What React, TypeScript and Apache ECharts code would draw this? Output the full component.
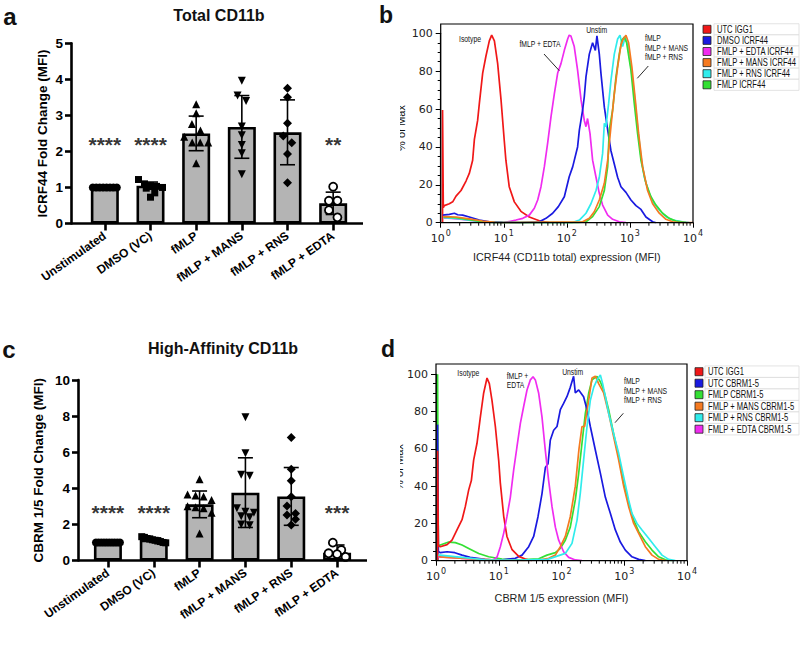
import React, { useEffect, useRef } from 'react';
import * as echarts from 'echarts';

// ---------------- Bar panels (a, c) ----------------
const categories = ['Unstimulated', 'DMSO (VC)', 'fMLP', 'fMLP + MANS', 'fMLP + RNS', 'fMLP + EDTA'];

// Panel a – Total CD11b (ICRF44 fold change, MFI)
const totalMean = [1.0, 1.05, 2.5, 2.68, 2.53, 0.56];
const totalSD = [0, 0.1, 0.48, 0.87, 0.9, 0.31];
const totalUnstim = [1, 1, 1, 1, 1, 1, 1, 1];
const totalDMSO = [1.22, 1.1, 1.05, 1.03, 1.0, 0.98, 0.85, 0.73];
const totalFMLP = [3.31, 3.06, 2.76, 2.58, 2.41, 2.25, 2.25, 2.25, 1.67];
const totalMANS = [3.96, 3.55, 3.4, 2.69, 2.45, 2.18, 1.95, 1.37];
const totalRNS = [3.75, 3.5, 2.78, 2.43, 2.24, 1.93, 1.13];
const totalEDTA = [1.02, 0.63, 0.63, 0.37, 0.17];
const totalSig = ['****', '****', '', '', '', '**'];
const totalYTicks = { min: 0, max: 5, interval: 1 };

// Panel c – High-affinity CD11b (CBRM 1/5 fold change, MFI)
const hiMean = [1.0, 1.15, 3.11, 3.76, 3.55, 0.43];
const hiSD = [0, 0.1, 0.74, 1.93, 1.6, 0.43];
const hiUnstim = [1, 1, 1, 1, 1, 1, 1, 1, 1, 1];
const hiDMSO = [1.32, 1.28, 1.22, 1.2, 1.15, 1.12, 1.08, 1.05, 1.0, 0.98];
const hiFMLP = [4.5, 3.65, 3.6, 3.55, 3.35, 3.0, 2.95, 2.9, 2.65, 1.5];
const hiMANS = [7.93, 5.94, 4.75, 4.7, 2.9, 2.7, 2.65, 2.45, 2.4, 2.0, 1.95];
const hiRNS = [6.82, 5.05, 4.42, 3.53, 3.02, 2.61, 2.52, 2.28, 1.97];
const hiEDTA = [0.99, 0.58, 0.4, 0.35, 0.2];
const hiSig = ['****', '****', '', '', '', '***'];
const hiYTicks = { min: 0, max: 10, interval: 2 };

// ---------------- Histogram panels (b, d): [MFI, % of Max] ----------------
const histBIsotype = [[1.07, 0], [1.07, 59.5], [1.1, 8], [1.14, 9], [1.37, 10], [1.55, 11], [1.75, 14], [2.1, 17], [2.52, 22], [2.84, 26], [3.21, 33], [3.42, 44], [3.85, 54], [4.1, 63], [4.63, 79], [5.22, 88], [5.9, 96], [6.43, 99], [7.1, 96], [8.0, 84], [9.04, 65], [10.2, 43], [10.8, 33], [12.2, 19], [14.7, 11], [18.7, 6], [25.4, 3], [36.6, 1], [52.7, 0]];
const histBDMSO = [[1.08, 4], [1.37, 4.4], [1.65, 5], [1.86, 4.2], [2.23, 4], [2.84, 3], [4.1, 1.4], [5.9, 0.5], [9.6, 0.2], [17.7, 0], [36.6, 0.5], [46.7, 2.3], [59.6, 5], [73.3, 8.5], [91.2, 13.7], [109, 24.3], [124, 29.6], [148, 40], [158, 49], [178, 59.5], [189, 66.5], [201, 77], [227, 89], [256, 95], [283, 91], [300, 98.6], [327, 89], [347, 79], [393, 61], [444, 49], [500, 38], [565, 31], [638, 24], [721, 19], [865, 16], [1038, 12], [1247, 9], [1496, 7], [1795, 3], [2290, 0.5], [2600, 0]];
const histBEDTA = [[1.1, 2.5], [1.5, 2.3], [2.2, 1.8], [3.5, 1], [6, 0.3], [10, 0], [15.6, 1.4], [20, 2.3], [25.4, 4], [30.5, 7.6], [34.5, 12], [38.9, 19], [44, 29.6], [49.6, 42], [56.1, 56], [63.3, 68], [71.5, 79], [80.7, 84], [91.2, 91], [103, 97], [109, 99], [116, 98.6], [131, 93], [148, 80.6], [168, 64.8], [189, 54], [201, 50.7], [213, 55], [233, 47], [256, 33], [290, 24], [327, 15.5], [369, 9.3], [444, 4], [532, 1.8], [678, 0.5], [865, 0]];
const histBMANS = [[1.1, 3.2], [1.75, 3], [2.84, 2], [4.6, 0.9], [7.3, 0.2], [12, 0], [178, 0.5], [227, 2.3], [272, 5.8], [327, 12], [393, 20.8], [444, 33], [500, 50.7], [565, 68], [638, 82], [721, 94], [785, 97], [865, 99], [953, 95], [1076, 82], [1216, 65], [1374, 47], [1589, 29.6], [1905, 17], [2290, 10], [2918, 5], [3724, 1.8], [4754, 0.5], [6000, 0], [10000, 0]];
const histBRNS = [[1.1, 2.6], [1.75, 2.3], [2.84, 1.4], [4.6, 0.5], [7.3, 0], [120, 0], [158, 1.4], [201, 5], [241, 10], [290, 17], [327, 24], [369, 36.6], [393, 52.5], [417, 50.7], [460, 63], [500, 75], [565, 89], [638, 97], [695, 99], [766, 93], [845, 98], [919, 94], [1038, 82], [1172, 68], [1324, 50.7], [1496, 35], [1690, 24], [2028, 15.5], [2434, 10], [2918, 6.7], [3724, 3.2], [4754, 1.4], [6839, 0.4], [8730, 0]];
const histBFMLP = [[1.1, 3], [1.75, 2.6], [2.84, 1.6], [4.6, 0.6], [7.3, 0], [150, 0], [201, 0.5], [256, 3.2], [327, 8.5], [393, 17], [444, 29.6], [471, 49], [532, 59.5], [601, 77], [678, 89], [748, 96.5], [815, 98], [887, 95], [1038, 80.6], [1172, 63], [1324, 47], [1496, 33], [1795, 20.8], [2153, 13.7], [2588, 9.3], [3297, 5], [4206, 2.3], [5370, 0.9], [7727, 0]];

const histDIsotype = [[1.06, 0], [1.06, 59], [1.09, 8], [1.17, 7.5], [1.5, 8.6], [1.8, 11], [2.16, 16.5], [2.6, 22], [2.93, 29], [3.32, 38], [3.66, 43], [3.98, 54], [4.5, 63], [5.09, 77], [5.75, 90], [6.5, 98], [7.08, 95], [7.8, 86], [8.83, 72], [9.97, 54], [10.6, 41.6], [12, 23.8], [13.5, 13], [16.3, 5.9], [20.8, 2.3], [26.5, 0.9], [33.9, 0]];
const histDUTC = [[1.06, 0], [1.06, 73], [1.09, 5], [1.17, 4.3], [1.5, 4.8], [2.0, 4.3], [2.6, 3], [3.5, 1.8], [6, 0.7], [10, 0.2], [18.4, 1.3], [23.5, 3], [30, 7.5], [36, 13], [42.2, 23.6], [48.9, 36], [55.3, 50], [61, 52], [66.4, 64.8], [75, 70], [84.8, 72], [95.8, 81], [108, 84.4], [122, 88], [138, 93], [156, 98.9], [166, 90], [188, 91.6], [225, 88], [255, 81], [288, 72], [346, 59.4], [416, 47], [500, 34], [600, 25.4], [721, 16.5], [866, 10], [1040, 5.7], [1328, 2.1], [1698, 0.7], [2168, 0]];
const histDFMLP = [[1.06, 0], [1.06, 100], [1.09, 8], [1.17, 8.4], [1.59, 10], [2.03, 9.7], [2.6, 8.4], [3.32, 6.6], [4.79, 3.9], [6.9, 2.1], [11.3, 0.9], [20.8, 0.5], [43.3, 1], [58.7, 3], [79.8, 4.3], [95.8, 6.6], [115, 11], [138, 18], [166, 32.6], [188, 46.9], [212, 63], [240, 79], [271, 89.8], [306, 97], [368, 98.9], [416, 96], [470, 91.6], [565, 80.9], [678, 68], [815, 55.8], [979, 41.5], [1175, 30.8], [1413, 21.8], [1698, 15.6], [2168, 10.2], [2768, 5.7], [3532, 2.1], [4519, 0.5], [5768, 0]];
const histDMANS = [[1.09, 3], [1.17, 2.1], [2.0, 1.5], [4.5, 0.8], [10, 0.3], [25, 0.2], [45, 0.5], [62.5, 1.3], [79.8, 3], [95.8, 7.5], [115, 13], [138, 23.6], [166, 40], [190, 60], [212, 72], [234, 72], [271, 86], [306, 98], [346, 99], [391, 95], [470, 90], [565, 79], [678, 66.5], [815, 54], [979, 40], [1175, 29], [1413, 20], [1698, 14.7], [2168, 7.5], [2768, 3], [3532, 0.7], [4519, 0]];
const histDRNS = [[1.09, 3], [1.17, 3], [2.6, 1.8], [6, 0.5], [20, 0.3], [60, 0.7], [115, 3.9], [147, 9.3], [177, 21.8], [199, 36], [225, 54], [255, 72], [288, 86], [326, 93], [368, 97], [416, 99.6], [453, 95], [500, 88], [565, 79], [678, 68], [815, 57.6], [979, 45], [1175, 32.6], [1328, 25.4], [1596, 20], [1919, 16.5], [2449, 12], [3126, 7.5], [3996, 3], [5103, 0.7], [6516, 0]];
const histDEDTA = [[1.09, 2.1], [1.5, 1.8], [2.5, 1.3], [5, 0.7], [8, 0.3], [9.4, 2], [10.6, 7.5], [12, 14.8], [13.5, 23.6], [15.3, 34], [17.3, 48.7], [19.5, 61], [22.1, 73.7], [24.9, 82.6], [28.2, 91.6], [31.9, 97], [35.2, 98.7], [38.3, 97], [43.3, 89.8], [48.9, 77], [55.3, 59], [62.4, 43], [70.6, 29], [79.8, 18], [90.2, 11], [108, 4.8], [130, 1.8], [166, 0.4], [212, 0]];

const legendBNames = ['UTC IGG1', 'DMSO ICRF44', 'FMLP + EDTA ICRF44', 'FMLP + MANS ICRF44', 'FMLP + RNS ICRF44', 'FMLP ICRF44'];
const legendDNames = ['UTC IGG1', 'UTC CBRM1-5', 'FMLP CBRM1-5', 'FMLP + MANS CBRM1-5', 'FMLP + RNS CBRM1-5', 'FMLP + EDTA CBRM1-5'];

const RED = '#f01818';
const BLUE = '#1a1ae0';
const MAGENTA = '#f02cf0';
const ORANGE = '#f57a20';
const CYAN = '#30ecec';
const GREEN = '#34e034';

const ARIAL = '"Liberation Sans", Arial, sans-serif';
const VERD = '"DejaVu Sans", Verdana, sans-serif';

const symbolOf = ['circle', 'rect', 'triangle', 'triangle', 'diamond', 'circle'];

function swarm(values: number[], thr: number, maxSpan: number, step: number) {
  const idx = values.map((_, i) => i).sort((a, b) => values[b] - values[a]);
  const offs = new Array(values.length).fill(0);
  let g: number[] = [];
  const flush = () => {
    const n = g.length;
    if (!n) return;
    const sp = n > 1 ? Math.min(step, maxSpan / (n - 1)) : 0;
    g.forEach((k, j) => (offs[k] = (j - (n - 1) / 2) * sp));
    g = [];
  };
  for (const k of idx) {
    if (g.length && values[g[0]] - values[k] >= thr) flush();
    g.push(k);
  }
  flush();
  return offs;
}

function pointSeries(gi: number, pts: number[], ci: number, thr: number) {
  const offs = swarm(pts, thr, 24, 8.5);
  const open = ci === 5;
  const size = ci === 1 ? 7 : ci === 4 ? 9 : 8;
  return {
    type: 'scatter', xAxisIndex: gi, yAxisIndex: gi, z: 5, silent: true,
    symbol: symbolOf[ci], symbolSize: size, symbolRotate: ci === 3 ? 180 : 0,
    itemStyle: { color: open ? '#fff' : '#000', borderColor: '#000', borderWidth: open ? 1.8 : 0, opacity: 1 },
    data: pts.map((v, k) => ({ value: [ci, v], symbolOffset: [offs[k], 0] })),
  };
}

function errSeries(gi: number, mean: number[], sd: number[]) {
  return {
    type: 'custom', xAxisIndex: gi, yAxisIndex: gi, z: 4, silent: true,
    data: mean.map((m, i) => [i, m - sd[i], m + sd[i]]).filter((d) => d[2] - d[1] > 0),
    renderItem: (_p: any, api: any) => {
      const x = api.value(0);
      const hi = api.coord([x, api.value(2)]);
      const lo = api.coord([x, api.value(1)]);
      const w = 7.5;
      const st = { stroke: '#000', lineWidth: 1.6 };
      return {
        type: 'group',
        children: [
          { type: 'line', shape: { x1: hi[0], y1: hi[1], x2: lo[0], y2: lo[1] }, style: st },
          { type: 'line', shape: { x1: hi[0] - w, y1: hi[1], x2: hi[0] + w, y2: hi[1] }, style: st },
          { type: 'line', shape: { x1: lo[0] - w, y1: lo[1], x2: lo[0] + w, y2: lo[1] }, style: st },
        ],
      };
    },
  };
}

function barSeries(gi: number, mean: number[]) {
  return {
    type: 'bar', xAxisIndex: gi, yAxisIndex: gi, z: 2, silent: true, data: mean, barWidth: 28,
    itemStyle: { color: '#b4b4b4', borderColor: '#000', borderWidth: 2.6 },
  };
}

function sigSeries(gi: number, sig: string[], level: number) {
  return {
    type: 'scatter', xAxisIndex: gi, yAxisIndex: gi, z: 6, silent: true, symbolSize: 1,
    itemStyle: { color: 'rgba(0,0,0,0)' },
    label: { show: true, position: 'inside', fontSize: 21, fontWeight: 'bold', color: '#000', fontFamily: ARIAL },
    data: sig.map((s, i) => (s ? { value: [i, level], label: { formatter: s } } : null)).filter(Boolean),
  };
}

function catAxis(gi: number) {
  return {
    type: 'category', gridIndex: gi, data: categories,
    axisLine: { show: false },
    axisTick: { show: true, alignWithLabel: true, length: 7, lineStyle: { color: '#000', width: 2.6 } },
    axisLabel: { rotate: 35, margin: 11, fontFamily: ARIAL, fontSize: 12, fontWeight: 'bold', color: '#000', interval: 0 },
  };
}

function valAxis(gi: number, t: { min: number; max: number; interval: number }, name: string, gap: number, offset: number) {
  return {
    type: 'value', gridIndex: gi, min: t.min, max: t.max, interval: t.interval, offset,
    name, nameLocation: 'middle', nameGap: gap,
    nameTextStyle: { fontFamily: ARIAL, fontSize: 13.5, fontWeight: 'bold', color: '#000' },
    axisLine: { show: true, lineStyle: { color: '#000', width: 2.6 } },
    axisTick: { show: true, length: 6, lineStyle: { color: '#000', width: 2.6 } },
    axisLabel: { margin: 8, fontFamily: ARIAL, fontSize: 13.5, fontWeight: 'bold', color: '#000' },
    splitLine: { show: false },
  };
}

function histX(gi: number, name: string, gap: number) {
  return {
    type: 'log', logBase: 10, gridIndex: gi, min: 1, max: 10000,
    name, nameLocation: 'middle', nameGap: gap,
    nameTextStyle: { fontFamily: ARIAL, fontSize: 10.8, color: '#222' },
    axisLine: { show: true, lineStyle: { color: '#000', width: 1.2 } },
    axisTick: { show: true, length: 5, lineStyle: { color: '#000', width: 1 } },
    axisLabel: {
      margin: 7,
      formatter: (v: number) => `{b|10}{s|${Math.round(Math.log10(v))}}`,
      rich: {
        b: { fontFamily: VERD, fontSize: 11, color: '#222', lineHeight: 14, verticalAlign: 'bottom' },
        s: { fontFamily: VERD, fontSize: 8, color: '#222', lineHeight: 14, verticalAlign: 'top', padding: [0, 0, 6, 1] },
      },
    },
    splitLine: { show: false },
  };
}

function histY(gi: number) {
  return {
    type: 'value', gridIndex: gi, min: 0, max: 100, interval: 20,
    axisLine: { show: true, lineStyle: { color: '#000', width: 1.2 } },
    axisTick: { show: true, length: 5, lineStyle: { color: '#000', width: 1 } },
    minorTick: { show: true, splitNumber: 4, length: 3, lineStyle: { color: '#000', width: 1 } },
    axisLabel: { margin: 8, fontFamily: VERD, fontSize: 11, color: '#222' },
    splitLine: { show: false },
  };
}

function histLine(gi: number, name: string, color: string, data: number[][]) {
  return {
    type: 'line', name, xAxisIndex: gi, yAxisIndex: gi, data, showSymbol: false, symbol: 'none',
    silent: true, lineStyle: { color, width: 1.7 }, itemStyle: { color }, z: 3,
  };
}

const logMinor: number[][] = [];
for (let d = 0; d < 4; d++) for (let m = 2; m <= 9; m++) logMinor.push([m * Math.pow(10, d), 0]);

function minorTickSeries(gi: number) {
  return {
    type: 'custom', xAxisIndex: gi, yAxisIndex: gi, silent: true, clip: false, z: 4, data: logMinor,
    renderItem: (_p: any, api: any) => {
      const p = api.coord([api.value(0), 0]);
      return { type: 'line', shape: { x1: p[0], y1: p[1], x2: p[0], y2: p[1] + 3 }, style: { stroke: '#000', lineWidth: 1 } };
    },
  };
}

function txt(x: number, y: number, text: string, font: string, align = 'center', el: any = {}) {
  return { type: 'text', x, y, z: 50, ...el, style: { text, font, fill: '#111', textAlign: align, textVerticalAlign: 'middle' } };
}
function seg(x1: number, y1: number, x2: number, y2: number, w = 1, color = '#111') {
  return { type: 'line', z: 50, shape: { x1, y1, x2, y2 }, style: { stroke: color, lineWidth: w } };
}
const SMALL = '8.5px ' + ARIAL;
const narrow = { scaleX: 0.8 };

function legendTable(names: string[], colors: string[], sqX: number, txtX: number, cy0: number, step: number) {
  const els: any[] = [];
  names.forEach((n, i) => {
    const cy = cy0 + i * step;
    els.push({ type: 'rect', z: 40, shape: { x: txtX - 3, y: cy - step / 2, width: 800 - txtX + 2, height: step }, style: { fill: '#fff', stroke: '#dcdcdc', lineWidth: 0.8 } });
    els.push({ type: 'rect', z: 41, shape: { x: sqX, y: cy - 4, width: 8, height: 8 }, style: { fill: colors[i], stroke: '#222', lineWidth: 0.8 } });
    els.push({ type: 'text', z: 42, x: txtX, y: cy, scaleX: 0.76, style: { text: n, font: '10px ' + ARIAL, fill: '#111', textAlign: 'left', textVerticalAlign: 'middle' } });
  });
  return els;
}

export default function App() {
  const ref = useRef<HTMLDivElement>(null);
  useEffect(() => {
    if (!ref.current) return;
    const chart = echarts.init(ref.current, undefined, { renderer: 'svg' });
    const thrA = 0.22;
    const thrC = 0.44;
    const totalPts = [totalUnstim, totalDMSO, totalFMLP, totalMANS, totalRNS, totalEDTA];
    const hiPts = [hiUnstim, hiDMSO, hiFMLP, hiMANS, hiRNS, hiEDTA];

    const option: any = {
      animation: false,
      backgroundColor: '#fff',
      grid: [
        { left: 82, top: 43.3, width: 274, height: 180.2 },
        { left: 440.7, top: 33.3, width: 252.3, height: 189.4 },
        { left: 85, top: 380, width: 275, height: 180.5 },
        { left: 436, top: 374.3, width: 251, height: 186.4 },
      ],
      xAxis: [
        catAxis(0),
        histX(1, 'ICRF44 (CD11b total) expression (MFI)', 29),
        catAxis(2),
        histX(3, 'CBRM 1/5 expression (MFI)', 32),
      ],
      yAxis: [
        valAxis(0, totalYTicks, 'ICRF44 Fold Change (MFI)', 22, 11),
        histY(1),
        valAxis(2, hiYTicks, 'CBRM 1/5 Fold Change (MFI)', 33, 7),
        histY(3),
      ],
      series: [
        barSeries(0, totalMean),
        errSeries(0, totalMean, totalSD),
        ...totalPts.map((p, ci) => pointSeries(0, p, ci, thrA)),
        sigSeries(0, totalSig, 2.2),
        barSeries(2, hiMean),
        errSeries(2, hiMean, hiSD),
        ...hiPts.map((p, ci) => pointSeries(2, p, ci, thrC)),
        sigSeries(2, hiSig, 2.65),
        histLine(1, 'UTC IGG1', RED, histBIsotype),
        histLine(1, 'FMLP + EDTA ICRF44', MAGENTA, histBEDTA),
        histLine(1, 'DMSO ICRF44', BLUE, histBDMSO),
        histLine(1, 'FMLP + RNS ICRF44', CYAN, histBRNS),
        histLine(1, 'FMLP ICRF44', GREEN, histBFMLP),
        histLine(1, 'FMLP + MANS ICRF44', ORANGE, histBMANS),
        minorTickSeries(1),
        histLine(3, 'FMLP CBRM1-5', GREEN, histDFMLP),
        histLine(3, 'UTC CBRM1-5', BLUE, histDUTC),
        histLine(3, 'UTC IGG1 ', RED, histDIsotype),
        histLine(3, 'FMLP + EDTA CBRM1-5', MAGENTA, histDEDTA),
        histLine(3, 'FMLP + MANS CBRM1-5', ORANGE, histDMANS),
        histLine(3, 'FMLP + RNS CBRM1-5', CYAN, histDRNS),
        minorTickSeries(3),
      ],
      graphic: [
        // panel letters and titles
        txt(10, 16, 'a', 'bold 24px ' + ARIAL),
        txt(386, 15, 'b', 'bold 23px ' + ARIAL),
        txt(9, 349, 'c', 'bold 24px ' + ARIAL),
        txt(388, 349, 'd', 'bold 23px ' + ARIAL),
        txt(219, 15, 'Total CD11b', 'bold 16px ' + ARIAL),
        txt(223, 348, 'High-Affinity CD11b', 'bold 16px ' + ARIAL),
        // Prism style x axis lines
        seg(71, 223.5, 363, 223.5, 2.6, '#000'),
        seg(78, 560.5, 367, 560.5, 2.6, '#000'),
        // histogram frames
        { type: 'rect', z: 45, shape: { x: 440.7, y: 24, width: 252.3, height: 198.7 }, style: { fill: 'none', stroke: '#000', lineWidth: 1.2 } },
        { type: 'rect', z: 45, shape: { x: 436, y: 364, width: 251, height: 196.7 }, style: { fill: 'none', stroke: '#000', lineWidth: 1.2 } },
        // histogram y-axis names (cropped at the panel edge in the original figure)
        txt(401, 128, '% of Max', '11px ' + ARIAL, 'center', { rotation: Math.PI / 2 }),
        txt(398.5, 467, '% of Max', '11px ' + ARIAL, 'center', { rotation: Math.PI / 2 }),
        { type: 'rect', z: 100, shape: { x: 380, y: 90, width: 20, height: 80 }, style: { fill: '#fff' } },
        { type: 'rect', z: 100, shape: { x: 380, y: 430, width: 20, height: 80 }, style: { fill: '#fff' } },
        // annotations b
        txt(470, 39, 'Isotype', SMALL, 'center', narrow),
        txt(540, 44.3, 'fMLP + EDTA', SMALL, 'center', narrow),
        txt(596.7, 30.7, 'Unstim', SMALL, 'center', narrow),
        txt(645, 38.3, 'fMLP', SMALL, 'left', narrow),
        txt(645, 48, 'fMLP + MANS', SMALL, 'left', narrow),
        txt(645, 57.7, 'fMLP + RNS', SMALL, 'left', narrow),
        seg(544, 54, 559.3, 70.7, 0.9),
        seg(648.3, 66, 637.3, 78.3, 0.9),
        // annotations d
        txt(468.3, 373.3, 'Isotype', SMALL, 'center', narrow),
        txt(506.7, 376, 'fMLP +', SMALL, 'left', narrow),
        txt(506.7, 385, 'EDTA', SMALL, 'left', narrow),
        txt(572.7, 372.3, 'Unstim', SMALL, 'center', narrow),
        txt(624, 381.7, 'fMLP', SMALL, 'left', narrow),
        txt(624, 391.7, 'fMLP + MANS', SMALL, 'left', narrow),
        txt(624, 400.7, 'fMLP + RNS', SMALL, 'left', narrow),
        seg(623.3, 413.3, 615, 422.7, 0.9),
        // legends
        ...legendTable(legendBNames, [RED, BLUE, MAGENTA, ORANGE, CYAN, GREEN], 703, 717, 29.3, 11.1),
        ...legendTable(legendDNames, [RED, BLUE, GREEN, ORANGE, CYAN, MAGENTA], 695, 708, 371.7, 11.5),
      ],
    };
    chart.setOption(option);
    return () => chart.dispose();
  }, []);
  return <div ref={ref} style={{ position: 'absolute', left: 0, top: 0, width: 800, height: 646 }} />;
}
